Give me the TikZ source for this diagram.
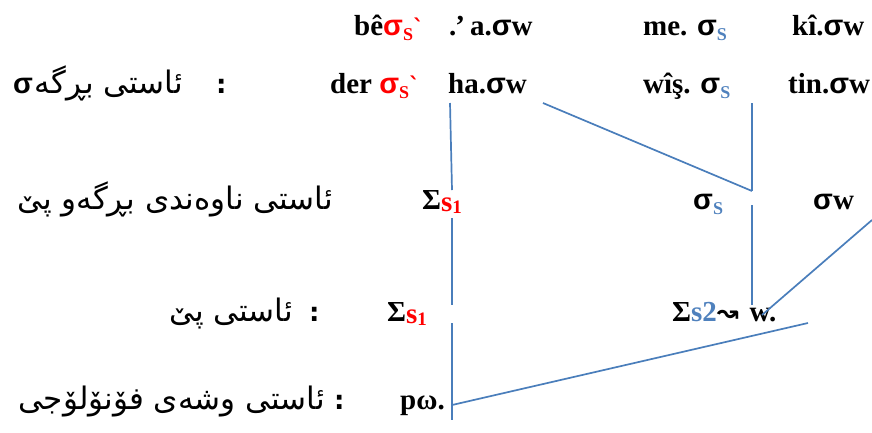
\documentclass[tikz,border=0pt]{standalone}
\usepackage{fontspec}
\usepackage{xcolor}
\setmainfont{Liberation Serif}
\newfontfamily\kurdfont[Script=Arabic]{DejaVu Sans}
\newfontfamily\symfont{DejaVu Sans}
\newfontfamily\sigfont{Liberation Sans}
\TeXXeTstate=1
\usetikzlibrary{positioning}
\definecolor{linkblue}{HTML}{4A7EBB}
\definecolor{subblue}{HTML}{4F81BD}
\newcommand{\sg}{{\sigfont σ}}
\newcommand{\lowS}{\raisebox{-5pt}{\fontsize{18}{18}\selectfont S}}
\newcommand{\grv}{{\symfont\fontsize{22}{22}\selectfont ˋ}}
\newcommand{\redS}{\textcolor{red}{\sg\lowS\grv}}
\newcommand{\blueS}{\sg\textcolor{subblue}{\lowS}}
\newcommand{\foot}{Σ\textcolor{red}{\raisebox{-2pt}{s}\raisebox{-4pt}{\fontsize{19}{19}\selectfont 1}}}

\begin{document}
\begin{tikzpicture}[x=1pt, y=-1pt,
		word/.style={inner sep=0pt, anchor=base west, font=\fontsize{29}{34}\selectfont\bfseries},
		kurd/.style={inner sep=0pt, anchor=base east, font=\fontsize{31}{36}\selectfont\kurdfont},
		colon/.style={inner sep=0pt, anchor=base west, font=\fontsize{26}{30}\selectfont\bfseries\symfont},
		link/.style={draw=linkblue, line width=1.7pt}
		]
		\useasboundingbox (0,0) rectangle (872,432);
		
		% syllable level, first word
		\node[word] (bes) at (354,35) {bê\redS};
		\node[word] (aow) at (449,35) {.\kern-1pt’\hspace{5pt}a.\sg w};
		\node[word] (mes) at (643,35) {me. \blueS};
		\node[word] (kiw) at (792,35) {kî.\sg w};
		
		% syllable level, second word
		\node[word] (sigL) at (13,93) {\sg};
		\node[kurd] (lvlA) at (183,93) {\beginR ئاستی بڕگە\endR};
		\node[colon] (colA) at (216,93) {:};
		\node[word] (der) at (330,93) {der \redS};
		\node[word] (has) at (448,93) {ha.\sg w};
		\node[word] (wis) at (643,93) {wîş. \blueS};
		\node[word] (tin) at (788,93) {tin.\sg w};
		
		% intermediate level
		\node[kurd] (lvlB) at (333,209) {\beginR ئاستی ناوەندی بڕگەو پێ\endR};
		\node[word] (ftA) at (422,209) {\foot};
		\node[word] (sigS) at (693,209) {\blueS};
		\node[word] (sigW) at (813,209) {\sg w};
		
		% foot level
		\node[kurd] (lvlC) at (293,321) {\beginR ئاستی پێ\endR};
		\node[colon] (colC) at (309,321) {:};
		\node[word] (ftB) at (387,321) {\foot};
		\node[word] (ftC) at (672,321) {Σ\textcolor{subblue}{s2}{\symfont\bfseries\fontsize{26}{26}\selectfont ↝}\hspace{11pt}w.};
		
		% phonological word level
		\node[kurd] (lvlD) at (325,409) {\beginR ئاستی وشەی فۆنۆلۆجی\endR};
		\node[colon] (colD) at (334,409) {:};
		\node[word] (pw) at (400,409) {pω.};
		
		\draw[link] ([shift={(2pt,-10pt)}]has.base west) -- ([shift={(30pt,19pt)}]ftA.base west);
		\draw[link] ([shift={(30pt,-9pt)}]ftA.base west) -- ([shift={(65pt,16pt)}]ftB.base west);
		\draw[link] ([shift={(65pt,-2pt)}]ftB.base west) -- ([shift={(52pt,-11pt)}]pw.base west);
		\draw[link] ([shift={(95pt,-10pt)}]has.base west) -- ([shift={(59pt,18pt)}]sigS.base west);
		\draw[link] ([shift={(109pt,-10pt)}]wis.base west) -- ([shift={(59pt,18pt)}]sigS.base west);
		\draw[link] ([shift={(59pt,4pt)}]sigS.base west) -- ([shift={(80pt,16pt)}]ftC.base west);
		\draw[link] ([shift={(59pt,-11pt)}]sigW.base west) -- ([shift={(90pt,6pt)}]ftC.base west);
		\draw[link] ([shift={(136pt,-2pt)}]ftC.base west) -- ([shift={(52pt,4pt)}]pw.base west);
		
	\end{tikzpicture}
\end{document}
